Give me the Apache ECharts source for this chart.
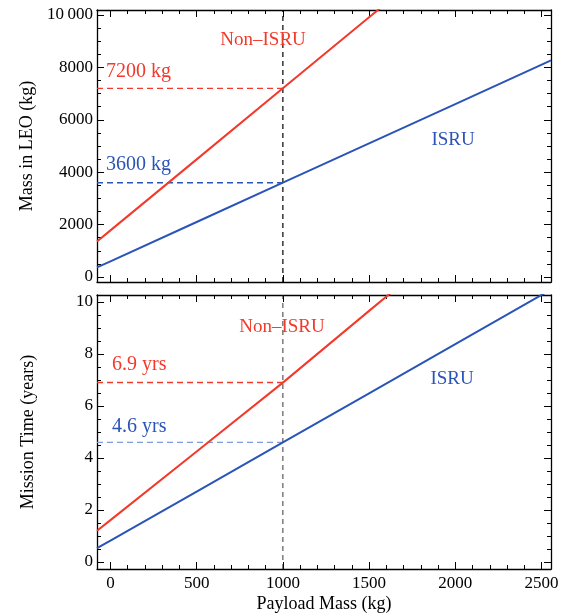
<!DOCTYPE html>
<html>
<head>
<meta charset="utf-8">
<script src="https://cdn.jsdelivr.net/npm/echarts@6/dist/echarts.min.js"></script>
<style>
html,body{margin:0;padding:0;background:#fff;}
#chart{width:562px;height:616px;}
</style>
</head>
<body>
<div id="chart"></div>
<script>
// ---- Data ----
const payload = [-78, 0, 500, 1000, 1500, 2000, 2555];
const massNonIsru = [1357, 1780, 4490, 7200, 9910, 12620, 15630];
const massIsru = [366, 600, 2100, 3600, 5100, 6600, 8265];
const timeNonIsru = [1.2, 1.61, 4.25, 6.9, 9.66, 12.4, 15.5];
const timeIsru = [0.53, 0.82, 2.71, 4.6, 6.49, 8.38, 10.48];

const refPayload = 1000;
const refMassNonIsru = 7200;
const refMassIsru = 3600;
const refTimeNonIsru = 6.9;
const refTimeIsru = 4.6;

const payloadTicks = [0, 500, 1000, 1500, 2000, 2500];
const payloadTickLabels = ['0', '500', '1000', '1500', '2000', '2500'];
const massTicks = [0, 2000, 4000, 6000, 8000, 10000];
const massTickLabels = ['0', '2000', '4000', '6000', '8000', '10\u2009000'];
const timeTicks = [0, 2, 4, 6, 8, 10];
const timeTickLabels = ['0', '2', '4', '6', '8', '10'];

// annotation texts: [x, y, text]
const massNotes = [[885, 9046, 'Non\u2013ISRU'], [1987, 5229, 'ISRU']];
const massValueNotes = [[-26, 7824, '7200 kg'], [-26, 4275, '3600 kg']];
const timeNotes = [[995, 9.03, 'Non\u2013ISRU'], [1981, 7.03, 'ISRU']];
const timeValueNotes = [[9, 7.6, '6.9 yrs'], [9, 5.21, '4.6 yrs']];

// ---- Axis ranges ----
const xMin = -78, xMax = 2555;
const massMin = -190, massMax = 10190;
const timeMin = -0.27, timeMax = 10.27;

const RED = '#f2392b';
const BLUE = '#2b54b8';
const FONT = 'Liberation Serif';

function minorsOf(majors, step, lo, hi) {
  const out = [];
  for (let v = lo; v <= hi + 1e-9; v += step) {
    const r = Math.round(v * 1000) / 1000;
    if (!majors.some(m => Math.abs(m - r) < 1e-6)) out.push(r);
  }
  return out;
}
const payloadMinor = minorsOf(payloadTicks, 100, 0, 2500);
const massMinor = minorsOf(massTicks, 500, 0, 10000);
const timeMinor = minorsOf(timeTicks, 0.5, 0, 10);

function axes(dim, gridIndex, min, max, majors, minors, labels, showLabels, name, nameGap) {
  const sides = dim === 'x' ? ['bottom', 'top'] : ['left', 'right'];
  const list = [];
  sides.forEach((side, si) => {
    [true, false].forEach(isMajor => {
      const ax = {
        type: 'value', gridIndex, min, max, position: side, silent: true,
        splitLine: { show: false },
        axisLine: { show: isMajor, onZero: false, lineStyle: { color: '#000', width: 1.3 } },
        axisTick: { show: true, inside: true, length: isMajor ? 7 : 4,
          customValues: isMajor ? majors : minors, lineStyle: { color: '#000', width: 1 } },
        axisLabel: { show: false }
      };
      if (si === 0 && isMajor && showLabels) {
        ax.axisLabel = {
          show: true, customValues: majors, margin: dim === 'x' ? 6 : 4,
          color: '#000', fontFamily: FONT, fontSize: 17,
          formatter: v => { const i = majors.findIndex(m => Math.abs(m - v) < 1e-6); return i >= 0 ? labels[i] : ''; }
        };
      }
      if (si === 0 && isMajor && name) {
        ax.name = name;
        ax.nameLocation = 'middle';
        ax.nameGap = nameGap;
        ax.nameTextStyle = { color: '#000', fontFamily: FONT, fontSize: 18 };
      }
      list.push(ax);
    });
  });
  return list;
}

const xAxis = [].concat(
  axes('x', 0, xMin, xMax, payloadTicks, payloadMinor, payloadTickLabels, false, null, 0),
  axes('x', 1, xMin, xMax, payloadTicks, payloadMinor, payloadTickLabels, true, 'Payload Mass (kg)', 26)
);
const yAxis = [].concat(
  axes('y', 0, massMin, massMax, massTicks, massMinor, massTickLabels, true, 'Mass in LEO (kg)', 60),
  axes('y', 1, timeMin, timeMax, timeTicks, timeMinor, timeTickLabels, true, 'Mission Time (years)', 60)
);

function zip(xs, ys) { return xs.map((x, i) => [x, ys[i]]); }

function line(xi, yi, data, color, width, type, z) {
  return {
    type: 'line', xAxisIndex: xi, yAxisIndex: yi, data, clip: true,
    symbol: 'none', showSymbol: false, silent: true, z: z || 2,
    lineStyle: { color, width, type: type || 'solid' }
  };
}

function notes(xi, yi, data, color, align, size) {
  return {
    type: 'scatter', xAxisIndex: xi, yAxisIndex: yi, data, symbolSize: 1, silent: true,
    itemStyle: { color: 'rgba(255,255,255,0)' }, z: 5,
    label: {
      show: true, position: 'inside', align, verticalAlign: 'middle',
      color, fontFamily: FONT, fontSize: size,
      textBorderWidth: 0, textBorderColor: 'transparent', opacity: 1,
      formatter: p => p.data[2]
    }
  };
}

const series = [
  // top panel (x axis 0, y axis 0)
  line(0, 0, [[refPayload, massMin], [refPayload, massMax]], '#000', 1.2, [5, 4], 1),
  line(0, 0, [[xMin, refMassNonIsru], [refPayload, refMassNonIsru]], RED, 1.2, [6, 4], 1),
  line(0, 0, [[xMin, refMassIsru], [refPayload, refMassIsru]], BLUE, 1.5, [6, 4], 1),
  line(0, 0, zip(payload, massNonIsru), RED, 2),
  line(0, 0, zip(payload, massIsru), BLUE, 2),
  notes(0, 0, [massNotes[0]], RED, 'center', 19),
  notes(0, 0, [massNotes[1]], BLUE, 'center', 19),
  notes(0, 0, [massValueNotes[0]], RED, 'left', 20),
  notes(0, 0, [massValueNotes[1]], BLUE, 'left', 20),
  // bottom panel (x axis 4, y axis 4)
  line(4, 4, [[refPayload, timeMin], [refPayload, timeMax]], '#222', 0.9, [5, 4], 1),
  line(4, 4, [[xMin, refTimeNonIsru], [refPayload, refTimeNonIsru]], RED, 1.5, [6, 4], 1),
  line(4, 4, [[xMin, refTimeIsru], [refPayload, refTimeIsru]], '#7d9ddc', 1.3, [6, 4], 1),
  line(4, 4, zip(payload, timeNonIsru), RED, 2),
  line(4, 4, zip(payload, timeIsru), BLUE, 2),
  notes(4, 4, [timeNotes[0]], RED, 'center', 19),
  notes(4, 4, [timeNotes[1]], BLUE, 'center', 19),
  notes(4, 4, [timeValueNotes[0]], RED, 'left', 20),
  notes(4, 4, [timeValueNotes[1]], BLUE, 'left', 20)
];

const chart = echarts.init(document.getElementById('chart'), null, { renderer: 'canvas' });
chart.setOption({
  animation: false,
  backgroundColor: '#fff',
  grid: [
    { left: 97, right: 11, top: 10, height: 272 },
    { left: 97, right: 11, top: 295, height: 274 }
  ],
  xAxis, yAxis, series
});
</script>
</body>
</html>
